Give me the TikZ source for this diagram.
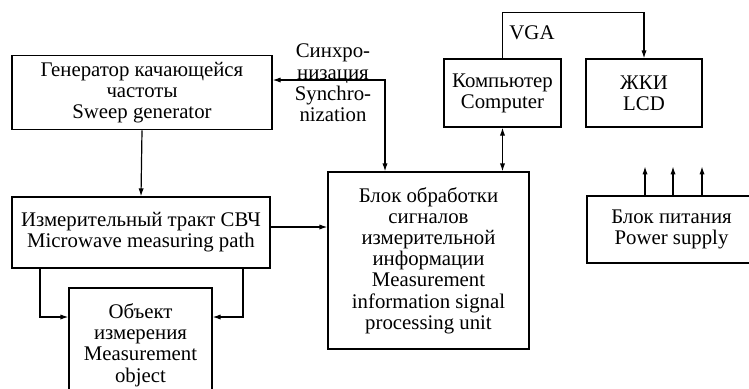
\documentclass[tikz,border=0pt]{standalone}
\usepackage{fontspec}
\setmainfont{Liberation Serif}
\usetikzlibrary{arrows.meta}

\begin{document}
\begin{tikzpicture}[x={(0.5pt,0)}, y={(0,-0.5pt)},
    line width=0.6pt, >={Latex[length=4pt,width=2.6pt]},
    every node/.style={font=\fontsize{10.4}{10.6}\selectfont, align=center, inner xsep=1pt},
    unit/.style={draw, minimum width=#1},
    unit/.default=60pt]
    \useasboundingbox (0,0) rectangle (749,388);
    \clip (0,0) rectangle (749,388);

    % left column
    \node[unit=130pt, minimum height=34.5pt] (gen) at (142,92.5)
        {Генератор качающейся\\частоты\\Sweep generator};
    \node[unit=129pt, minimum height=35.5pt] (path) at (141,232.5)
        {Измерительный тракт СВЧ\\Microwave measuring path};
    \node[unit=71.5pt, minimum height=57pt] (obj) at (140.5,345)
        {Объект\\измерения\\Measurement\\object};

    % middle
    \node[unit=100.5pt, minimum height=88.5pt] (proc) at (428.5,260.5)
        {Блок обработки\\сигналов\\измерительной\\информации\\Measurement\\information signal\\processing unit};
    \node (synctxt) at (333,83) {Синхро-\\низация\\Synchro-\\nization};

    % right
    \node[unit=58.5pt, minimum height=34pt] (comp) at (502.5,93) {Компьютер\\Computer};
    \node[unit=58pt, minimum height=34pt] (lcd) at (644,93) {ЖКИ\\LCD};
    \node[unit=84.5pt, minimum height=33.5pt] (power) at (671.5,229.5) {Блок питания\\Power supply};
    \node (vga) at (532,33) {VGA};

    \coordinate (sync) at (385,80);
    \coordinate (pathout) at (270,227);
    \coordinate (objin) at (140,317);

    \draw[<->] (gen.east |- sync) -| (sync |- proc.north);
    \draw[->] (gen.south) -- (path.north);
    \draw[->] (pathout) -- (proc.west |- pathout);
    \draw[->] (40,0 |- path.south) |- (obj.west |- objin);
    \draw[->] (243,0 |- path.south) |- (obj.east |- objin);
    \draw[<->] (comp.south) -- (comp.south |- proc.north);
    \draw[->] (comp.north) -- ++(0,-46) -| (lcd.north);
    \foreach \x in {645,673,702}
        \draw[->] (\x,0 |- power.north) -- ++(0,-29);
\end{tikzpicture}
\end{document}
